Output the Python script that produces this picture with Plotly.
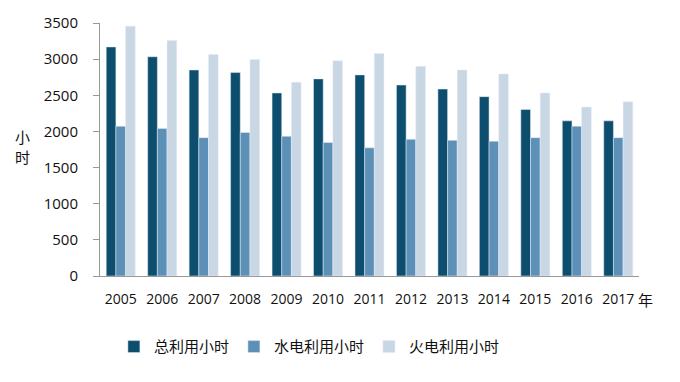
import plotly.graph_objects as go

years = ["2005", "2006", "2007", "2008", "2009", "2010", "2011", "2012", "2013", "2014", "2015", "2016", "2017"]
total_hours = [3169, 3033, 2850, 2814, 2532, 2727, 2782, 2641, 2586, 2481, 2304, 2146, 2146]
hydro_hours = [2072, 2041, 1914, 1986, 1932, 1846, 1773, 1891, 1877, 1864, 1914, 2072, 1914]
thermal_hours = [3455, 3259, 3064, 2996, 2680, 2977, 3078, 2900, 2850, 2795, 2532, 2337, 2409]
y_ticks = [0, 500, 1000, 1500, 2000, 2500, 3000, 3500]

FONT = "Open Sans, Noto Sans CJK SC, sans-serif"
CJK = "Noto Sans CJK SC, sans-serif"

fig = go.Figure()
fig.add_bar(x=years, y=total_hours, name="总利用小时", marker_color="#0D4D6D")
fig.add_bar(x=years, y=hydro_hours, name="水电利用小时", marker_color="#5D90B7")
fig.add_bar(x=years, y=thermal_hours, name="火电利用小时", marker_color="#C9D6E4")

fig.update_layout(
    width=680, height=382,
    margin=dict(l=100, r=41, t=19, b=106),
    plot_bgcolor="white", paper_bgcolor="white",
    barmode="group", bargap=0.30, bargroupgap=0,
    font=dict(family=FONT, size=14, color="#111111"),
    showlegend=True,
    legend=dict(orientation="h", xref="container", yref="container",
                x=0.455, xanchor="center", y=0.092, yanchor="middle",
                font=dict(size=15, family=CJK),
                itemwidth=30, traceorder="normal"),
)
fig.update_xaxes(showline=True, linecolor="#999999", linewidth=1, ticks="",
                 tickfont=dict(size=14), showgrid=False, ticklabelstandoff=10)
fig.update_yaxes(range=[0, 3500], tickvals=y_ticks, showline=True, linecolor="#999999",
                 linewidth=1, ticks="outside", ticklen=6, tickcolor="#999999",
                 showgrid=False, zeroline=False, tickfont=dict(size=15),
                 ticklabelstandoff=12)
fig.add_annotation(text="小<br>时", x=-0.143, y=(276 - 144) / 257, xref="paper", yref="paper",
                   showarrow=False, xanchor="center", yanchor="middle",
                   font=dict(size=15, family=CJK))
fig.add_annotation(text="年", x=0.995, y=-24 / 257, xref="paper", yref="paper", showarrow=False,
                   xanchor="left", yanchor="middle", font=dict(size=15, family=CJK))

fig.write_html("out.html", config={"displayModeBar": False},
               post_script="document.body.style.margin='0';")
